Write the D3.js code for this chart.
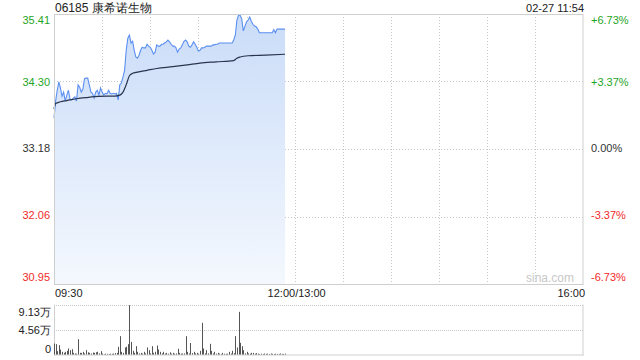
<!DOCTYPE html>
<html>
<head>
<meta charset="utf-8">
<script src="https://cdn.jsdelivr.net/npm/d3@7"></script>
<style>
  html, body { margin: 0; padding: 0; background: #fff; }
  svg { display: block; font-family: "Liberation Sans", Arial, sans-serif; }
</style>
</head>
<body>
<div id="root"></div>
<script>
"use strict";

// minute-by-minute data, index = minutes since 09:30
const prices = [
  33.69, 33.97, 34.15, 34.29, 34.19, 34.05, 34.12, 33.97, 34.07, 34.15,
  34.00, 33.99, 34.02, 34.04, 33.97, 34.24, 34.20, 34.12, 34.17, 34.34,
  34.35, 34.35, 34.24, 34.12, 34.10, 34.02, 34.12, 34.15, 34.07, 34.19,
  34.12, 34.07, 34.10, 34.09, 34.15, 34.10, 34.09, 34.10, 34.09, 34.10,
  33.99, 34.24, 34.27, 34.37, 34.48, 34.81, 35.01, 35.06, 34.93, 34.96,
  34.81, 34.70, 34.68, 34.73, 34.81, 34.86, 34.85, 34.85, 34.91, 34.88,
  34.86, 34.81, 34.75, 34.78, 34.90, 34.88, 34.88, 34.91, 34.91, 34.93,
  34.95, 34.98, 34.95, 34.91, 34.88, 34.88, 34.85, 34.78, 34.83, 34.85,
  34.90, 34.96, 34.98, 34.95, 34.88, 34.86, 34.90, 34.95, 34.91, 34.86,
  34.80, 34.81, 34.85, 34.85, 34.86, 34.88, 34.88, 34.88, 34.88, 34.90,
  34.90, 34.91, 34.91, 34.93, 34.93, 34.93, 34.93, 34.93, 34.93, 34.93,
  34.93, 34.93, 34.98, 35.06, 35.31, 35.39, 35.39, 35.33, 35.13, 35.21,
  35.28, 35.31, 35.36, 35.29, 35.24, 35.21, 35.20, 35.16, 35.10, 35.10,
  35.10, 35.10, 35.10, 35.10, 35.10, 35.10, 35.10, 35.15, 35.10, 35.16,
  35.16, 35.16, 35.16, 35.16, 35.16
];

const avgMinutes = [0, 1, 4, 8, 14, 20, 28, 38, 41, 43, 45, 47, 49, 52, 58, 64, 74, 83, 91, 101, 112, 114, 116, 121, 132, 144];
const avgPrices = [33.84, 33.93, 33.96, 33.98, 34.01, 34.03, 34.05, 34.055, 34.07, 34.12, 34.24, 34.39, 34.43, 34.45, 34.48, 34.51, 34.54, 34.57, 34.60, 34.62, 34.64, 34.68, 34.70, 34.72, 34.73, 34.745];

const volumes = [
  20000, 18900, 6000, 17000, 9100, 4900, 3000, 4900, 6700, 11000,
  7900, 9700, 3000, 1800, 1500, 28000, 3000, 3000, 4900, 2000,
  7900, 4000, 3000, 1800, 3600, 3000, 4000, 5000, 2000, 6100,
  1800, 600, 1500, 1200, 1000, 1500, 1200, 1800, 2500, 3000,
  14000, 33500, 4900, 3000, 12800, 14000, 18900, 90000, 23100, 6700,
  3000, 15200, 4900, 2000, 3000, 1500, 4900, 2000, 12800, 7900,
  2000, 15200, 3000, 4900, 16400, 9100, 4900, 2000, 4900, 1800,
  3000, 1500, 4000, 1500, 3000, 1500, 2000, 10500, 3000, 1500,
  1800, 2000, 33500, 4900, 2000, 21000, 2500, 4900, 2000, 3000,
  1500, 6700, 57800, 11000, 2000, 7900, 2000, 19500, 6700, 2000,
  4900, 1500, 3000, 1500, 1000, 3000, 1500, 1200, 1500, 4900,
  1800, 6700, 2500, 33500, 12800, 77900, 21300, 15200, 7900, 2000,
  4900, 2000, 1500, 3000, 3000, 1500, 2500, 1500, 1000, 1500,
  1000, 1800, 1200, 1500, 1000, 1800, 1200, 1000, 1500, 1200,
  1000, 1800, 1200, 1000, 1500
];

const priceTicks = [35.41, 34.30, 33.18, 32.06, 30.95];
const pctTicks = ["+6.73%", "+3.37%", "0.00%", "-3.37%", "-6.73%"];
const volTicks = [91300, 45600, 0];
const volTickLabels = ["9.13万", "4.56万", "0"];
const gridMinutes = [30, 60, 90, 120, 150, 180, 210, 240, 270, 300];
const timeLabels = ["09:30", "12:00/13:00", "16:00"];
const prevClose = 33.18;

const width = 640;
const height = 360;
const plotLeft = 54;
const plotRight = 583.5;
const plotTop = 14;
const plotBottom = 284;
const volTop = 304.5;
const volBottom = 354.5;

const green = "#1fa51f";
const red = "#f22a2a";
const neutral = "#333";
const gridColor = "#c8c8c8";

const x = d3.scaleLinear().domain([0, 330]).range([plotLeft, plotRight]);
const y = d3.scaleLinear().domain([30.95, 35.41]).range([plotBottom, plotTop]);
const yVol = d3.scaleLinear().domain([0, 91300]).range([volBottom, volTop]);

const svg = d3.select("#root")
  .append("svg")
  .attr("width", width)
  .attr("height", height);

const defs = svg.append("defs");
const grad = defs.append("linearGradient")
  .attr("id", "fill")
  .attr("gradientUnits", "userSpaceOnUse")
  .attr("x1", 0).attr("y1", plotTop)
  .attr("x2", 0).attr("y2", plotBottom);
grad.append("stop").attr("offset", "0%").attr("stop-color", "#cadcf8");
grad.append("stop").attr("offset", "100%").attr("stop-color", "#f4f8fe");

// price panel grid
svg.append("g")
  .selectAll("line")
  .data(gridMinutes)
  .join("line")
  .attr("x1", (d) => Math.round(x(d)) + 0.5)
  .attr("x2", (d) => Math.round(x(d)) + 0.5)
  .attr("y1", plotTop)
  .attr("y2", plotBottom)
  .attr("stroke", gridColor)
  .attr("stroke-dasharray", "1,2");

svg.append("g")
  .selectAll("line")
  .data(priceTicks.slice(1, 4))
  .join("line")
  .attr("x1", plotLeft)
  .attr("x2", plotRight)
  .attr("y1", (d) => Math.round(y(d)) + 0.5)
  .attr("y2", (d) => Math.round(y(d)) + 0.5)
  .attr("stroke", gridColor)
  .attr("stroke-dasharray", "1,2");

svg.append("text")
  .attr("x", 574)
  .attr("y", 282)
  .attr("text-anchor", "end")
  .attr("font-size", 12)
  .attr("fill", "#c8c8c8")
  .text("sina.com");

// area + lines
const idx = prices.map((d, i) => i);

const area = d3.area()
  .x((i) => x(i))
  .y0(plotBottom)
  .y1((i) => y(prices[i]));

svg.append("path")
  .datum(idx)
  .attr("d", area)
  .attr("fill", "url(#fill)");

const line = d3.line()
  .x((i) => x(i))
  .y((i) => y(prices[i]));

svg.append("path")
  .datum(idx)
  .attr("d", line)
  .attr("fill", "none")
  .attr("stroke", "#5b8ff0")
  .attr("stroke-width", 1.1);

const avgLine = d3.line()
  .x((d, i) => x(avgMinutes[i]))
  .y((d) => y(d))
  .curve(d3.curveMonotoneX);

svg.append("path")
  .datum(avgPrices)
  .attr("d", avgLine)
  .attr("fill", "none")
  .attr("stroke", "#2a3550")
  .attr("stroke-width", 1.2);

svg.append("rect")
  .attr("x", plotLeft + 0.5)
  .attr("y", plotTop + 0.5)
  .attr("width", plotRight - plotLeft - 1)
  .attr("height", plotBottom - plotTop)
  .attr("fill", "none")
  .attr("stroke", "#cfcfcf");

// price labels
const labelY = [24, 86, 152, 219, 281];
const tickColor = (d) => (d > prevClose + 0.001 ? green : d < prevClose - 0.001 ? red : neutral);

svg.append("g")
  .selectAll("text")
  .data(priceTicks)
  .join("text")
  .attr("x", 50)
  .attr("y", (d, i) => labelY[i])
  .attr("text-anchor", "end")
  .attr("font-size", 11)
  .attr("fill", tickColor)
  .text((d) => d.toFixed(2));

svg.append("g")
  .selectAll("text")
  .data(pctTicks)
  .join("text")
  .attr("x", 591)
  .attr("y", (d, i) => labelY[i])
  .attr("font-size", 11)
  .attr("fill", (d, i) => tickColor(priceTicks[i]))
  .text((d) => d);

// header
svg.append("text")
  .attr("x", 55)
  .attr("y", 12)
  .attr("font-size", 12)
  .attr("fill", "#222")
  .text("06185 康希诺生物");

svg.append("text")
  .attr("x", 584)
  .attr("y", 12)
  .attr("text-anchor", "end")
  .attr("font-size", 11)
  .attr("fill", "#222")
  .text("02-27 11:54");

// time labels
svg.append("text")
  .attr("x", 55).attr("y", 297)
  .attr("font-size", 11).attr("fill", "#222")
  .text(timeLabels[0]);
svg.append("text")
  .attr("x", x(150) + 2).attr("y", 297)
  .attr("text-anchor", "middle")
  .attr("font-size", 11).attr("fill", "#222")
  .text(timeLabels[1]);
svg.append("text")
  .attr("x", 585).attr("y", 297)
  .attr("text-anchor", "end")
  .attr("font-size", 11).attr("fill", "#222")
  .text(timeLabels[2]);

// volume panel
svg.append("g")
  .selectAll("line")
  .data(volTicks.slice(0, 2))
  .join("line")
  .attr("x1", plotLeft)
  .attr("x2", plotRight)
  .attr("y1", (d) => Math.round(yVol(d)) + 0.5)
  .attr("y2", (d) => Math.round(yVol(d)) + 0.5)
  .attr("stroke", gridColor)
  .attr("stroke-dasharray", "1,1");

svg.append("g")
  .selectAll("line")
  .data([plotLeft + 0.5, plotRight - 0.5])
  .join("line")
  .attr("x1", (d) => d)
  .attr("x2", (d) => d)
  .attr("y1", volTop)
  .attr("y2", volBottom + 1)
  .attr("stroke", "#cfcfcf");

svg.append("line")
  .attr("x1", plotLeft)
  .attr("x2", plotRight)
  .attr("y1", volBottom + 0.5)
  .attr("y2", volBottom + 0.5)
  .attr("stroke", "#cfcfcf");

svg.append("g")
  .selectAll("rect")
  .data(volumes)
  .join("rect")
  .attr("x", (d, i) => Math.round(x(i)))
  .attr("y", (d) => yVol(d))
  .attr("width", 1)
  .attr("height", (d) => volBottom - yVol(d))
  .attr("fill", "#555");

const volLabelY = [316, 334, 352.5];
svg.append("g")
  .selectAll("text")
  .data(volTickLabels)
  .join("text")
  .attr("x", 51)
  .attr("y", (d, i) => volLabelY[i])
  .attr("text-anchor", "end")
  .attr("font-size", 11)
  .attr("fill", "#222")
  .text((d) => d);
</script>
</body>
</html>
